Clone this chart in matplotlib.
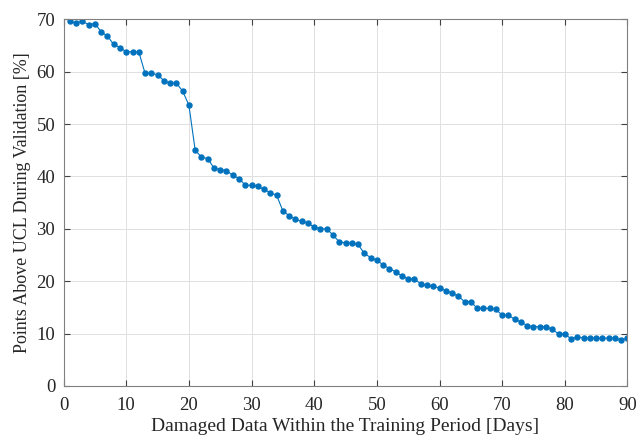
import matplotlib
matplotlib.use("Agg")
import matplotlib.pyplot as plt
import numpy as np

# data
days = np.arange(1, 91)
points_above_ucl = [
    69.6, 69.3, 69.6, 69.0, 69.2, 67.6, 66.8, 65.2, 64.6, 63.8,
    63.8, 63.8, 59.7, 59.7, 59.4, 58.3, 57.8, 57.8, 56.3, 53.6,
    45.0, 43.7, 43.4, 41.6, 41.3, 41.1, 40.2, 39.6, 38.3, 38.3,
    38.1, 37.5, 36.9, 36.4, 33.4, 32.5, 31.8, 31.4, 31.1, 30.3,
    30.0, 30.0, 28.8, 27.5, 27.3, 27.3, 27.0, 25.3, 24.5, 24.0,
    23.1, 22.4, 21.8, 21.0, 20.4, 20.4, 19.5, 19.2, 19.0, 18.7,
    18.2, 17.7, 17.1, 16.1, 16.1, 14.8, 14.8, 14.8, 14.6, 13.5,
    13.5, 12.7, 12.2, 11.5, 11.3, 11.3, 11.3, 10.8, 9.9, 9.9,
    9.0, 9.4, 9.1, 9.1, 9.1, 9.1, 9.1, 9.1, 8.8, 9.1,
]
x_ticks = [0, 10, 20, 30, 40, 50, 60, 70, 80, 90]
y_ticks = [0, 10, 20, 30, 40, 50, 60, 70]

plt.rcParams['font.family'] = ['Liberation Serif', 'DejaVu Serif']
plt.rcParams['font.size'] = 12

fig = plt.figure(figsize=(6.36, 4.42), dpi=100)
ax = fig.add_axes([0.1, 0.127, 0.8866, 0.8293])

ax.plot(days, points_above_ucl, color='#0072BD', linewidth=0.8,
        marker='o', markersize=3.6, markerfacecolor='#0072BD',
        markeredgecolor='#0072BD')

ax.set_xlim(0, 90)
ax.set_ylim(0, 70)
ax.set_xticks(x_ticks)
ax.set_yticks(y_ticks)
ax.grid(True, color='#e0e0e0', linewidth=0.7)
ax.set_axisbelow(True)
ax.tick_params(direction='in', top=True, right=True, length=4,
               color='#404040', labelcolor='#262626', labelsize=13.5)
ax.tick_params(axis='x', pad=8)
ax.tick_params(axis='y', pad=6)
for s in ax.spines.values():
    s.set_color('#808080')
    s.set_linewidth(0.8)

ax.set_xlabel('Damaged Data Within the Training Period [Days]', fontsize=14, color='#262626', labelpad=3)
ax.set_ylabel('Points Above UCL During Validation [%]', fontsize=13, color='#262626', labelpad=4)

fig.savefig('out.png', dpi=100)
